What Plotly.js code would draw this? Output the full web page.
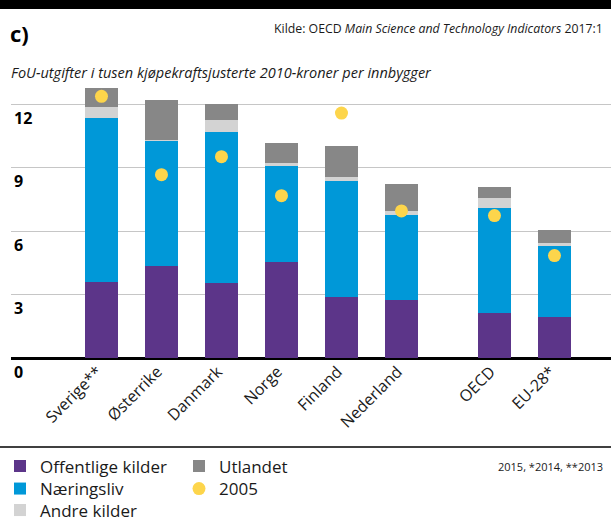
<!DOCTYPE html>
<html><head><meta charset="utf-8">
<script src="https://cdn.plot.ly/plotly-3.0.1.min.js"></script>
<style>html,body{margin:0;padding:0;background:#fff}#chart{width:611px;height:517px}</style>
</head><body><div id="chart"></div>
<script>
// ---- data ----
const categories = ['Sverige**','Østerrike','Danmark','Norge','Finland','Nederland','OECD','EU-28*'];
const aggregates = ['OECD','EU-28*'];
const offentlige  = [3.62, 4.36, 3.56, 4.55, 2.90, 2.76, 2.15, 1.96];
const naeringsliv = [7.72, 5.90, 7.12, 4.53, 5.47, 3.99, 4.96, 3.35];
const andre       = [0.52, 0.05, 0.57, 0.14, 0.19, 0.19, 0.47, 0.14];
const utlandet    = [0.90, 1.88, 0.75, 0.95, 1.46, 1.27, 0.53, 0.61];
const aar2005     = [12.37, 8.67, 9.52, 7.68, 11.58, 6.96, 6.74, 4.85];
const yTickVals   = [0, 3, 6, 9, 12];
const yTickText   = ['0', '3', '6', '9', '12'];

// ---- geometry ----
const W = 611, H = 517;
const M = {l: 11, r: 0, t: 83, b: 129, autoexpand: false};
const PW = W - M.l - M.r, PH = H - M.t - M.b;
const yMin = -1.4, yMax = 13;
const xs = categories.map((c, i) => i + (aggregates.includes(c) ? 0.55 : 0));
const px2x = px => (px - M.l) / PW;
const py2y = py => (H - M.b - py) / PH;
const FONT = 'Open Sans, Noto Sans, sans-serif';
const TXT = '#1a1a1a';

const barW = 0.55;
function bar(name, vals, color, legend) {
  return {type: 'bar', name: name, x: xs, y: vals, width: barW,
          marker: {color: color, line: {width: 0}}, legend: legend, hoverinfo: 'skip'};
}
const traces = [
  bar('Offentlige kilder', offentlige, '#5c3589', 'legend'),
  bar('Næringsliv', naeringsliv, '#0098d8', 'legend2'),
  bar('Andre kilder', andre, '#d3d3d3', 'legend3'),
  bar('Utlandet', utlandet, '#878787', 'legend4'),
  {type: 'scatter', mode: 'markers', name: '2005', x: xs, y: aar2005, legend: 'legend5',
   marker: {color: '#fdd54b', size: 13, line: {width: 0}}, hoverinfo: 'skip'}
];

function leg(xpx, topPx) {
  return {xref: 'container', yref: 'container', x: xpx / W, y: 1 - topPx / H,
          xanchor: 'left', yanchor: 'top', orientation: 'v', bgcolor: 'rgba(0,0,0,0)',
          font: {family: FONT, size: 17, color: TXT}, itemclick: false};
}

const layout = {
  width: W, height: H, margin: M,
  paper_bgcolor: '#fff', plot_bgcolor: '#fff',
  font: {family: FONT, color: TXT},
  barmode: 'stack',
  showlegend: true,
  title: {text: '<b>c)</b>', xref: 'container', x: 10 / W, xanchor: 'left',
          yref: 'container', y: 1 - 34 / H, yanchor: 'middle', automargin: false,
          font: {family: FONT, size: 22, color: '#000'}},
  xaxis: {range: [-1.508, 8.492], tickvals: xs, ticktext: categories, tickangle: -45,
          anchor: 'free', position: (0 - yMin) / (yMax - yMin), automargin: false,
          showgrid: false, zeroline: false, showline: false, ticks: '', ticklabelshift: -4,
          tickfont: {family: FONT, size: 16, color: TXT}, fixedrange: true},
  yaxis: {range: [yMin, yMax], tickvals: yTickVals, ticktext: yTickText, automargin: false,
          showgrid: true, gridcolor: '#c6c6c6', gridwidth: 1.2,
          zeroline: true, zerolinecolor: '#000', zerolinewidth: 3.5,
          showline: false, ticks: '', ticklabelposition: 'inside', ticklabelshift: 14,
          tickfont: {family: FONT, size: 16, color: '#000', weight: 'bold'}, fixedrange: true},
  legend:  leg(0, 448.5),
  legend2: leg(0, 471),
  legend3: leg(0, 492.5),
  legend4: leg(179, 448.5),
  legend5: leg(179, 471),
  shapes: [
    {type: 'rect', xref: 'paper', yref: 'paper', x0: px2x(0), x1: px2x(W), y0: py2y(0), y1: py2y(9),
     fillcolor: '#000', line: {width: 0}},
    {type: 'line', xref: 'paper', yref: 'paper', x0: px2x(0), x1: px2x(W), y0: py2y(447), y1: py2y(447),
     line: {color: '#000', width: 1.5}}
  ],
  annotations: [
    {xref: 'paper', yref: 'paper', x: px2x(605), y: py2y(28), xanchor: 'right', yanchor: 'middle',
     showarrow: false, text: 'Kilde: OECD <i>Main Science and Technology Indicators</i> 2017:1',
     font: {family: FONT, size: 12.3, color: TXT}},
    {xref: 'paper', yref: 'paper', x: px2x(9), y: py2y(72), xanchor: 'left', yanchor: 'middle',
     showarrow: false, text: '<i>FoU-utgifter i tusen kjøpekraftsjusterte 2010-kroner per innbygger</i>',
     font: {family: FONT, size: 14.5, color: TXT}},
    {xref: 'paper', yref: 'paper', x: px2x(605), y: py2y(466), xanchor: 'right', yanchor: 'middle',
     showarrow: false, text: '2015, *2014, **2013',
     font: {family: FONT, size: 11, color: TXT}}
  ]
};

Plotly.newPlot('chart', traces, layout, {displayModeBar: false, staticPlot: true});
</script>
</body></html>
